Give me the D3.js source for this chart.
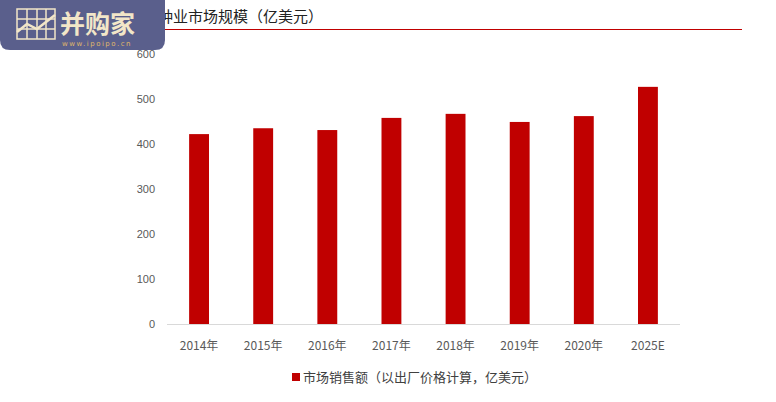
<!DOCTYPE html>
<html><head><meta charset="utf-8">
<script src="https://cdn.jsdelivr.net/npm/d3@7"></script>
<style>body{margin:0;background:#fff;font-family:"Noto Sans CJK SC","Microsoft YaHei",sans-serif}</style>
</head><body><svg width="776" height="402"></svg>
<script>
const years = ["2014年","2015年","2016年","2017年","2018年","2019年","2020年","2025E"];
const sales = [422, 435, 431, 458, 467, 449, 462, 527];
const yTicks = [0, 100, 200, 300, 400, 500, 600];

const svg = d3.select("svg");
const x = d3.scaleBand().domain(years).range([167, 680]).paddingInner(0.69).paddingOuter(0.345);
const y = d3.scaleLinear().domain([0, 600]).range([324, 54]);

svg.append("text").attr("x", 128).attr("y", 22).attr("font-size", 15).attr("fill", "#222")
  .text("全球种业市场规模（亿美元）");
svg.append("line").attr("x1", 150).attr("x2", 742).attr("y1", 29.5).attr("y2", 29.5)
  .attr("stroke", "#c00000").attr("stroke-width", 1);

svg.append("line").attr("x1", 167).attr("x2", 680).attr("y1", 324.5).attr("y2", 324.5).attr("stroke", "#d9d9d9");

svg.selectAll(".ytick").data(yTicks).enter().append("text")
  .attr("x", 155).attr("y", d => y(d) + 4).attr("text-anchor", "end")
  .attr("font-size", 11).attr("fill", "#595959").attr("font-family", "Liberation Sans, sans-serif").text(d => d);

svg.selectAll(".bar").data(sales).enter().append("rect")
  .attr("x", (d, i) => x(years[i])).attr("width", x.bandwidth())
  .attr("y", d => y(d)).attr("height", d => y(0) - y(d)).attr("fill", "#c00000");

svg.selectAll(".xtick").data(years).enter().append("text")
  .attr("x", d => x(d) + x.bandwidth() / 2).attr("y", 350).attr("text-anchor", "middle")
  .attr("font-size", 12).attr("fill", "#595959").text(d => d);

svg.append("rect").attr("x", 292).attr("y", 373).attr("width", 8).attr("height", 8).attr("fill", "#c00000");
svg.append("text").attr("x", 303).attr("y", 382).attr("font-size", 13).attr("fill", "#404040")
  .text("市场销售额（以出厂价格计算，亿美元）");

// logo
const logo = svg.append("g");
logo.append("path").attr("d", "M0,0H165V40Q165,50 155,50H10Q0,50 0,40Z").attr("fill", "#5a5f8c");
const grid = logo.append("g").attr("stroke", "#f2e6c8").attr("stroke-width", 1.5).attr("fill", "none");
grid.append("rect").attr("x", 17).attr("y", 9).attr("width", 38).attr("height", 30);
[27, 37, 46].forEach(v => grid.append("line").attr("x1", v).attr("x2", v).attr("y1", 9).attr("y2", 39));
[19, 29].forEach(v => grid.append("line").attr("x1", 17).attr("x2", 55).attr("y1", v).attr("y2", v));
grid.append("polyline").attr("points", "17,32 27,24 37,29 55,15").attr("stroke-width", 2.5);
logo.append("text").attr("x", 60).attr("y", 33).attr("font-size", 25).attr("font-weight", "bold")
  .attr("fill", "#f2e6c8").text("并购家");
logo.append("text").attr("x", 62).attr("y", 46).attr("font-size", 7).attr("letter-spacing", 1.5)
  .attr("fill", "#e0b86a").attr("font-family", "DejaVu Sans").text("www.ipoipo.cn");
</script></body></html>
